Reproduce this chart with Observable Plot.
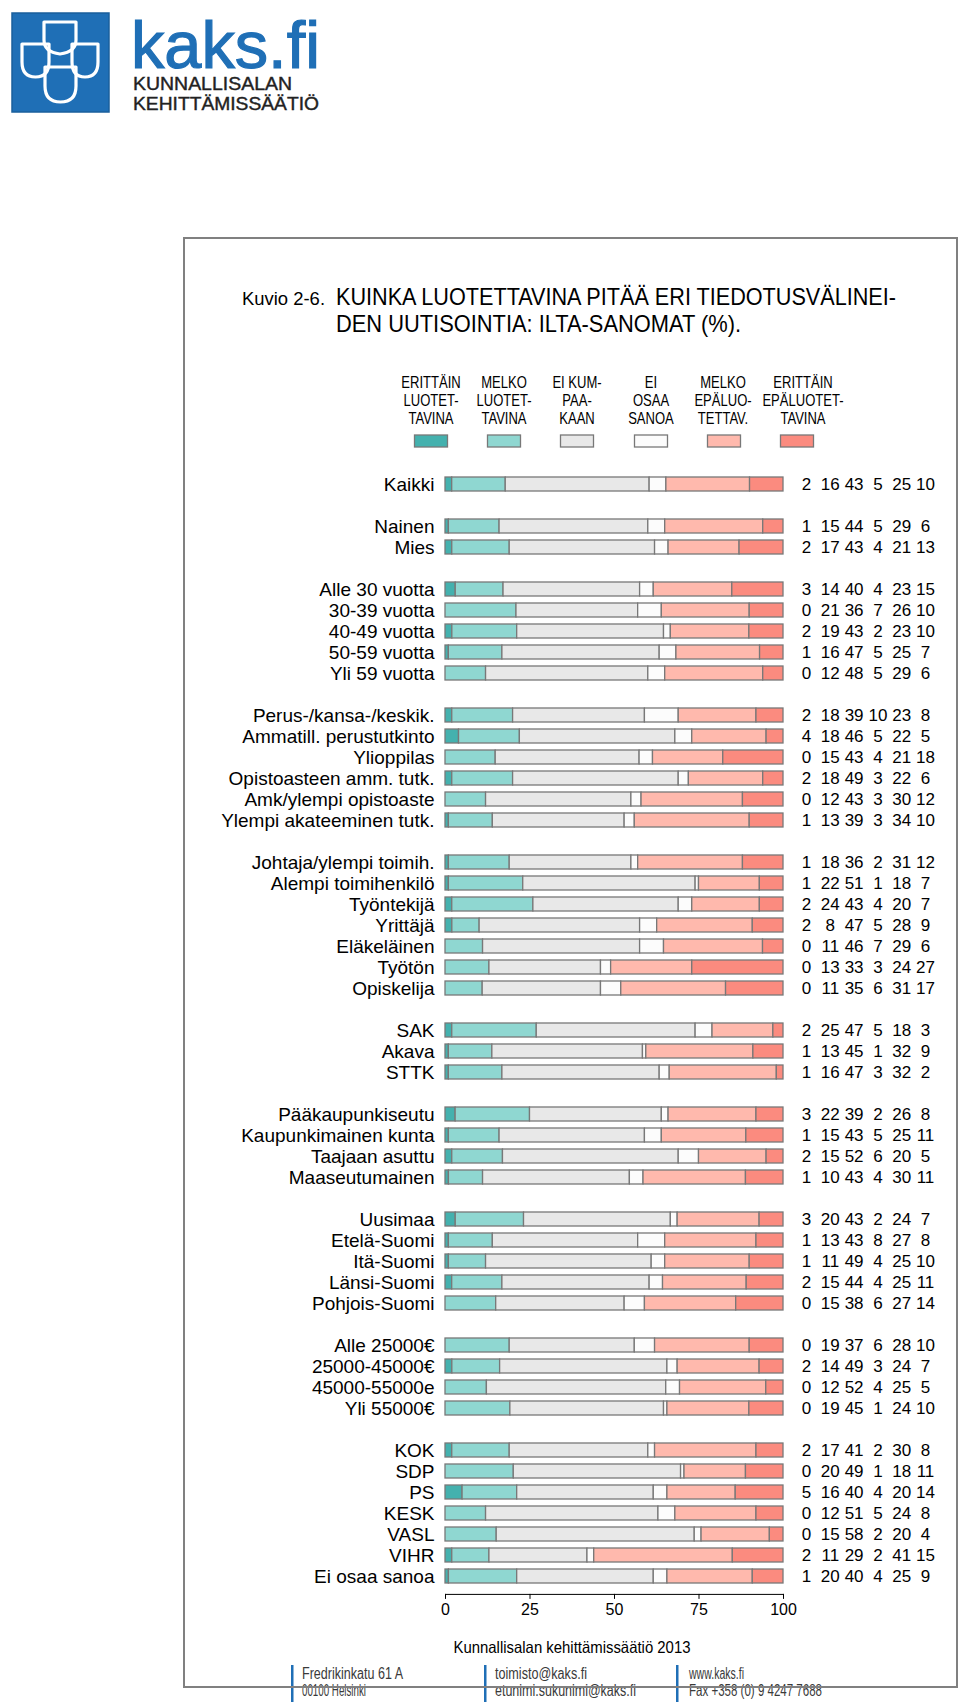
<!DOCTYPE html>
<html><head><meta charset="utf-8">
<script src="https://cdn.jsdelivr.net/npm/d3@7"></script>
<script src="https://cdn.jsdelivr.net/npm/@observablehq/plot@0.6"></script>
<style>
html,body{margin:0;padding:0;background:#fff;}
#page{position:relative;width:960px;height:1706px;overflow:hidden;font-family:"Liberation Sans",Arial,sans-serif;}
#chart{position:absolute;left:0;top:440px;width:960px;}
#deco{position:absolute;left:0;top:0;}
</style></head>
<body><div id="page"><div id="chart"></div>
<svg id="deco" width="960" height="1706" font-family="Liberation Sans, Arial, sans-serif">
  <!-- logo -->
  <rect x="12" y="13" width="97" height="99" fill="#1f6fb6" stroke="#1a5f9c" stroke-width="1.5"/>
  <g fill="none" stroke="#fff" stroke-width="3.2" stroke-linejoin="round">
    <path d="M44,22 H76 V40 Q76,52 60,54 Q44,52 44,40 Z"/>
    <path d="M22,44 H49 V62 Q49,77 35.5,77 Q22,77 22,62 Z"/>
    <path d="M72,44 H98 V62 Q98,77 85,77 Q72,77 72,62 Z"/>
    <path d="M45,67 H76 V86 Q76,102 60.5,102 Q45,102 45,86 Z"/>
  </g>
  <text x="131" y="68" font-size="66" fill="#1f6fb6" stroke="#1f6fb6" stroke-width="1.2" textLength="189" lengthAdjust="spacingAndGlyphs">kaks.fi</text>
  <text x="133" y="90" font-size="18" fill="#222" stroke="#222" stroke-width="0.4" textLength="159" lengthAdjust="spacingAndGlyphs">KUNNALLISALAN</text>
  <text x="133" y="110" font-size="18" fill="#222" stroke="#222" stroke-width="0.4" textLength="186" lengthAdjust="spacingAndGlyphs">KEHITTÄMISSÄÄTIÖ</text>
  <!-- title -->
  <text x="242" y="305" font-size="18" fill="#000" textLength="83" lengthAdjust="spacingAndGlyphs">Kuvio 2-6.</text>
  <text x="336" y="305" font-size="24" fill="#000" textLength="560" lengthAdjust="spacingAndGlyphs">KUINKA LUOTETTAVINA PITÄÄ ERI TIEDOTUSVÄLINEI-</text>
  <text x="336" y="332" font-size="24" fill="#000" textLength="405" lengthAdjust="spacingAndGlyphs">DEN UUTISOINTIA: ILTA-SANOMAT (%).</text>
  <g id="legend"></g>
  <text x="572" y="1653" font-size="16.5" fill="#000" text-anchor="middle" textLength="237" lengthAdjust="spacingAndGlyphs">Kunnallisalan kehittämissäätiö 2013</text>
  <!-- footer -->
  <g fill="#1f6fb6"><rect x="291" y="1665" width="2.5" height="37"/><rect x="484" y="1665" width="2.5" height="37"/><rect x="676" y="1665" width="2.5" height="37"/></g>
  <g font-size="16" fill="#3a3a3a">
    <text x="302" y="1679" textLength="101" lengthAdjust="spacingAndGlyphs">Fredrikinkatu 61 A</text>
    <text x="302" y="1696" textLength="64" lengthAdjust="spacingAndGlyphs">00100 Helsinki</text>
    <text x="495" y="1679" textLength="92" lengthAdjust="spacingAndGlyphs">toimisto@kaks.fi</text>
    <text x="495" y="1696" textLength="141" lengthAdjust="spacingAndGlyphs">etunimi.sukunimi@kaks.fi</text>
    <text x="689" y="1679" textLength="55" lengthAdjust="spacingAndGlyphs">www.kaks.fi</text>
    <text x="689" y="1696" textLength="133" lengthAdjust="spacingAndGlyphs">Fax +358 (0) 9 4247 7688</text>
  </g>
  <rect x="184" y="238" width="773" height="1449" fill="none" stroke="#808080" stroke-width="2"/>
</svg>
</div>
<script>
// ---- data ----
const categories = [
  "Kaikki",
  "Nainen","Mies",
  "Alle 30 vuotta","30-39 vuotta","40-49 vuotta","50-59 vuotta","Yli 59 vuotta",
  "Perus-/kansa-/keskik.","Ammatill. perustutkinto","Ylioppilas","Opistoasteen amm. tutk.","Amk/ylempi opistoaste","Ylempi akateeminen tutk.",
  "Johtaja/ylempi toimih.","Alempi toimihenkilö","Työntekijä","Yrittäjä","Eläkeläinen","Työtön","Opiskelija",
  "SAK","Akava","STTK",
  "Pääkaupunkiseutu","Kaupunkimainen kunta","Taajaan asuttu","Maaseutumainen",
  "Uusimaa","Etelä-Suomi","Itä-Suomi","Länsi-Suomi","Pohjois-Suomi",
  "Alle 25000€","25000-45000€","45000-55000e","Yli 55000€",
  "KOK","SDP","PS","KESK","VASL","VIHR","Ei osaa sanoa"
];
const groupSizes = [1,2,5,6,7,3,4,5,4,7];
const series = ["Erittäin luotettavina","Melko luotettavina","Ei kumpaakaan","Ei osaa sanoa","Melko epäluotettavina","Erittäin epäluotettavina"];
const legendLines = [["ERITTÄIN","LUOTET-","TAVINA"],["MELKO","LUOTET-","TAVINA"],["EI KUM-","PAA-","KAAN"],["EI","OSAA","SANOA"],["MELKO","EPÄLUO-","TETTAV."],["ERITTÄIN","EPÄLUOTET-","TAVINA"]];
const colors = ["#44b1ae","#8fd7d1","#e8e8e8","#fcfcfc","#ffb9ad","#fb8b7f"];

const erittainLuotettavina = [2,1,2,3,0,2,1,0,2,4,0,2,0,1,1,1,2,2,0,0,0,2,1,1,3,1,2,1,3,1,1,2,0,0,2,0,0,2,0,5,0,0,2,1];
const melkoLuotettavina   = [16,15,17,14,21,19,16,12,18,18,15,18,12,13,18,22,24,8,11,13,11,25,13,16,22,15,15,10,20,13,11,15,15,19,14,12,19,17,20,16,12,15,11,20];
const eiKumpaakaan        = [43,44,43,40,36,43,47,48,39,46,43,49,43,39,36,51,43,47,46,33,35,47,45,47,39,43,52,43,43,43,49,44,38,37,49,52,45,41,49,40,51,58,29,40];
const eiOsaaSanoa         = [5,5,4,4,7,2,5,5,10,5,4,3,3,3,2,1,4,5,7,3,6,5,1,3,2,5,6,4,2,8,4,4,6,6,3,4,1,2,1,4,5,2,2,4];
const melkoEpaluotettavina= [25,29,21,23,26,23,25,29,23,22,21,22,30,34,31,18,20,28,29,24,31,18,32,32,26,25,20,30,24,27,25,25,27,28,24,25,24,30,18,20,24,20,41,25];
const erittainEpaluotettavina = [10,6,13,15,10,10,7,6,8,5,18,6,12,10,12,7,7,9,6,27,17,3,9,2,8,11,5,11,7,8,10,11,14,10,7,5,10,8,11,14,8,4,15,9];
const axisTicks = [0,25,50,75,100];

// ---- derived tables ----
const seriesValues = [erittainLuotettavina,melkoLuotettavina,eiKumpaakaan,eiOsaaSanoa,melkoEpaluotettavina,erittainEpaluotettavina];
const slots = [];
{ let i = 0; groupSizes.forEach((n,g) => { if (g > 0) slots.push("gap" + g); for (let k = 0; k < n; k++) slots.push(categories[i++]); }); }
const rows = categories.map((cat,i) => ({cat, vals: seriesValues.map(s => s[i])}));
const segments = rows.flatMap(r => series.map((s,j) => ({cat: r.cat, series: s, value: r.vals[j]}))).filter(d => d.value > 0);

const numberMarks = series.map((s,k) => Plot.text(rows, {
  y: "cat", frameAnchor: "right", dx: 23 + 23.8*k, text: d => d.vals[k],
  textAnchor: "middle", fontSize: 17, fill: "#000", ariaLabel: "numbers"
}));

const chart = Plot.plot({
  width: 960, height: 1200,
  marginLeft: 445, marginRight: 177, marginTop: 26.8, marginBottom: 46.1,
  style: {fontFamily: "Liberation Sans, Arial, sans-serif", fontSize: "19px", color: "#000", background: "none", overflow: "visible"},
  x: {domain: [0,1], ticks: axisTicks.map(t => t/100), tickFormat: d => Math.round(d*100), tickSize: 5, tickPadding: 4, line: true, label: null},
  y: {domain: slots, padding: 0.34, tickSize: 0, tickPadding: 11, tickFormat: d => d.startsWith("gap") ? "" : d, label: null},
  color: {domain: series, range: colors},
  marks: [
    Plot.barX(segments, Plot.stackX({x: "value", y: "cat", fill: "series", offset: "normalize", stroke: "#787878", strokeWidth: 1.3})),
    ...numberMarks
  ]
});
document.getElementById("chart").appendChild(chart);
chart.querySelectorAll('[aria-label^="x-axis"]').forEach(g => g.setAttribute("font-size", "16"));
chart.querySelectorAll('[aria-label^="x-axis"] text').forEach(t => t.style.fontSize = "16px");
// condensed look for the value columns
chart.querySelectorAll('g[aria-label="numbers"] text').forEach(t => {
  const w = t.getComputedTextLength();
  if (w > 0) { t.setAttribute("textLength", (w*0.8).toFixed(2)); t.setAttribute("lengthAdjust", "spacingAndGlyphs"); }
});

// ---- legend ----
const lg = document.getElementById("legend");
const NS = "http://www.w3.org/2000/svg";
const swatchCenters = [431, 504, 577, 651, 724, 797];
const labelCenters  = [431, 504, 577, 651, 723, 803];
series.forEach((s,k) => {
  legendLines[k].forEach((line,i) => {
    const t = document.createElementNS(NS, "text");
    t.setAttribute("x", labelCenters[k]); t.setAttribute("y", 388 + 18*i);
    t.setAttribute("text-anchor", "middle"); t.setAttribute("font-size", "16.5");
    t.textContent = line; lg.appendChild(t);
    const w = t.getComputedTextLength();
    if (w > 0) { t.setAttribute("textLength", (w*0.79).toFixed(2)); t.setAttribute("lengthAdjust", "spacingAndGlyphs"); }
  });
  const r = document.createElementNS(NS, "rect");
  r.setAttribute("x", swatchCenters[k] - 16.5); r.setAttribute("y", 435);
  r.setAttribute("width", 33); r.setAttribute("height", 12);
  r.setAttribute("fill", colors[k]); r.setAttribute("stroke", "#787878"); r.setAttribute("stroke-width", 1.3);
  lg.appendChild(r);
});
</script>
</body></html>
